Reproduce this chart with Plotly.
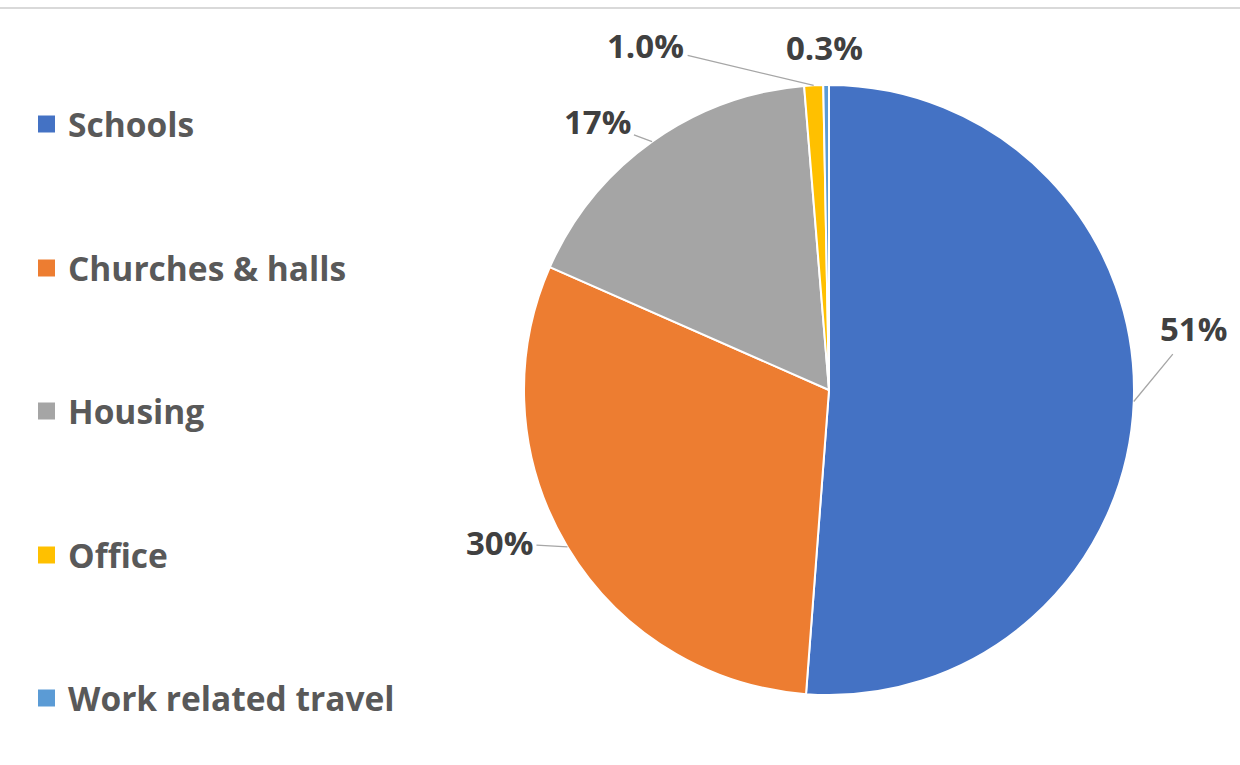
import math
import plotly.graph_objects as go

categories = ["Schools", "Churches & halls", "Housing", "Office", "Work related travel"]
values = [51.2, 30.4, 17.1, 1.0, 0.3]
value_labels = ["51%", "30%", "17%", "1.0%", "0.3%"]
colors = ["#4472C4", "#ED7D31", "#A5A5A5", "#FFC000", "#5B9BD5"]

W, H = 1240, 765
CX, CY, R = 829, 390, 305  # pie centre / radius in pixels

fig = go.Figure()
fig.add_trace(go.Pie(
    labels=categories,
    values=values,
    marker=dict(colors=colors, line=dict(color="white", width=2)),
    sort=False,
    direction="clockwise",
    rotation=0,
    textinfo="none",
    hoverinfo="label+percent",
    showlegend=False,
    domain=dict(x=[(CX - R) / W, (CX + R) / W], y=[1 - (CY + R) / H, 1 - (CY - R) / H]),
))

# label offsets (pixels from slice edge point to label centre)
offsets = [(60, -73), (-68, -4), (-55, -20), (-168, -40), (-2, -38)]
total = sum(values)
cum = 0.0
annotations = []
for v, lab, (ox, oy) in zip(values, value_labels, offsets):
    mid = (cum + v / 2) / total * 2 * math.pi
    cum += v
    ex = CX + R * math.sin(mid)
    ey = CY - R * math.cos(mid)
    show_arrow = lab != "0.3%"
    annotations.append(dict(
        x=ex / W, y=1 - ey / H, xref="paper", yref="paper",
        xanchor="center", yanchor="middle",
        text=lab, showarrow=show_arrow,
        ax=ox if show_arrow else 0, ay=oy if show_arrow else 0,
        yshift=0 if show_arrow else -oy,
        xshift=0 if show_arrow else ox,
        arrowhead=0, arrowwidth=1.3, arrowcolor="#A6A6A6", standoff=0, startstandoff=2,
        font=dict(family="Open Sans", size=33, color="#404040", weight="bold"),
    ))

# legend drawn manually
legend_y = [124, 268, 411, 555, 698]
shapes = [dict(type="line", xref="paper", yref="paper", x0=0, x1=1,
               y0=1 - 8 / H, y1=1 - 8 / H, line=dict(color="#D9D9D9", width=2))]
for name, col, ly in zip(categories, colors, legend_y):
    shapes.append(dict(type="rect", xref="paper", yref="paper",
                       x0=38 / W, x1=55 / W, y0=1 - (ly + 8.5) / H, y1=1 - (ly - 8.5) / H,
                       fillcolor=col, line=dict(width=0)))
    annotations.append(dict(
        x=66 / W, y=1 - ly / H, xref="paper", yref="paper", xanchor="left", yanchor="middle",
        text=name, showarrow=False,
        font=dict(family="Open Sans", size=33.5, color="#595959", weight="bold"),
    ))

fig.update_layout(
    width=W, height=H,
    margin=dict(l=0, r=0, t=0, b=0),
    paper_bgcolor="white", plot_bgcolor="white",
    annotations=annotations, shapes=shapes,
)
fig.write_html("out.html")
